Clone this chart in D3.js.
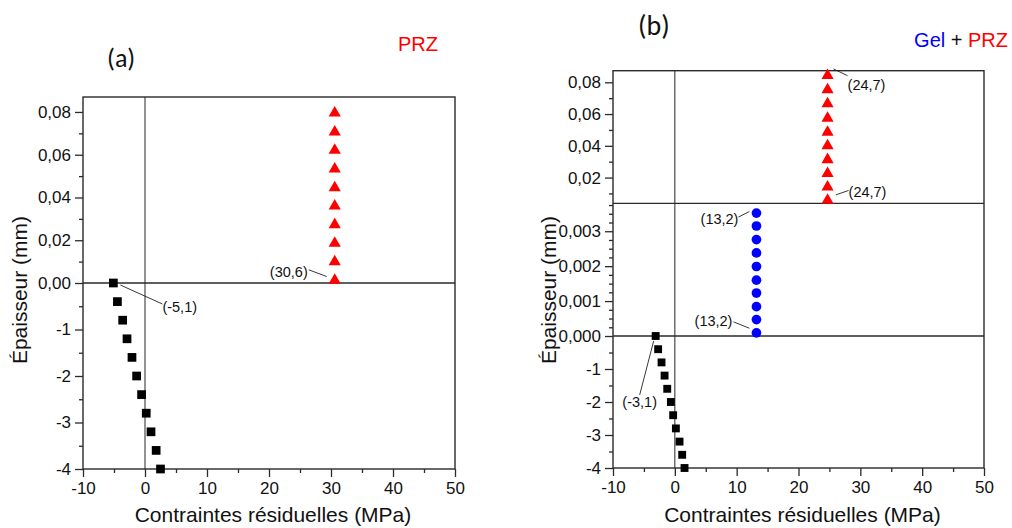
<!DOCTYPE html>
<html><head><meta charset="utf-8">
<script src="https://cdn.jsdelivr.net/npm/d3@7"></script>
<style>body{margin:0;background:#fff}svg{display:block}</style>
</head><body><svg id="c" width="1012" height="528"></svg>
<script>
// ---------- data ----------
const xTicks = [-10, 0, 10, 20, 30, 40, 50];
const xMinor = [-5, 5, 15, 25, 35, 45];
// panel (a)
const aSubX = [-5.1, -4.45, -3.6, -2.9, -2.1, -1.35, -0.55, 0.2, 0.97, 1.8, 2.5];
const aSubY = [0, -0.4, -0.8, -1.2, -1.6, -2.0, -2.4, -2.8, -3.2, -3.6, -4.0];
const aPrzX = [30.6, 30.6, 30.6, 30.6, 30.6, 30.6, 30.6, 30.6, 30.6, 30.6];
const aPrzY = [0.0013, 0.0099, 0.0186, 0.0273, 0.036, 0.0446, 0.0533, 0.0621, 0.0706, 0.0795];
const aTopTicks = [0, 0.02, 0.04, 0.06, 0.08];
const aTopMinor = [0.01, 0.03, 0.05, 0.07];
const lowTicks = [-1, -2, -3, -4];
const lowMinor = [-0.5, -1.5, -2.5, -3.5];
// panel (b)
const bSubX = [-3.1, -2.7, -2.15, -1.66, -1.23, -0.64, -0.27, 0.17, 0.76, 1.19, 1.57];
const bSubY = [0, -0.4, -0.8, -1.2, -1.6, -2.0, -2.4, -2.8, -3.2, -3.6, -4.0];
const bGelX = [13.2, 13.2, 13.2, 13.2, 13.2, 13.2, 13.2, 13.2, 13.2, 13.2];
const bGelY = [0.00009, 0.00047, 0.00084, 0.00123, 0.0016, 0.00199, 0.00238, 0.00276, 0.00315, 0.00352];
const bPrzX = [24.7, 24.7, 24.7, 24.7, 24.7, 24.7, 24.7, 24.7, 24.7, 24.7];
const bPrzY = [0.0057, 0.014, 0.0226, 0.0313, 0.0401, 0.0486, 0.0574, 0.0665, 0.0753, 0.0843];
const bTopTicks = [0.02, 0.04, 0.06, 0.08];
const bTopMinor = [0.01, 0.03, 0.05, 0.07];
const bMidTicks = [0, 0.001, 0.002, 0.003];
const bMidMinor = [0.00025, 0.0005, 0.00075, 0.00125, 0.0015, 0.00175, 0.00225, 0.0025, 0.00275, 0.00325, 0.0035, 0.00375];
// segment domains
const aTopDom = [0, 0.087], aLowDom = [-4, 0];
const bTopDom = [0.0038, 0.0873], bMidDom = [0, 0.0038], bLowDom = [-4, 0];
const xDom = [-10, 50];
// texts
const xTitle = "Contraintes résiduelles (MPa)";
const yTitle = "Épaisseur (mm)";

// ---------- drawing ----------
const svg = d3.select("#c");
svg.append("rect").attr("width", 1012).attr("height", 528).attr("fill", "#fff");
const loc = d3.formatLocale({decimal: ",", thousands: ".", grouping: [3], currency: ["", ""], minus: "-"});
const f2 = loc.format(".2f"), f3 = loc.format(".3f"), fd = loc.format("d");
const FONT = "Liberation Sans, Arial, sans-serif";
const RED = "#ff0000", BLUE = "#0000ff";

function panel(cfg) {
  const g = svg.append("g");
  const x = d3.scaleLinear().domain(xDom).range([cfg.left, cfg.right]);
  const segs = cfg.segs.map(s => Object.assign({}, s, {
    scale: d3.scaleLinear().domain(s.dom).range([s.y1, s.y0])
  }));
  const L = cfg.left, R = cfg.right, T = segs[0].y0, B = segs[segs.length - 1].y1;

  // zero vertical line
  g.append("line").attr("x1", x(0)).attr("x2", x(0)).attr("y1", T).attr("y2", B)
    .attr("stroke", "#3a3a3a").attr("stroke-width", 1.1);
  // segment separators
  segs.slice(0, -1).forEach(s => {
    g.append("line").attr("x1", L).attr("x2", R).attr("y1", s.y1).attr("y2", s.y1)
      .attr("stroke", "#2a2a2a").attr("stroke-width", 1.3);
  });
  // frame
  g.append("rect").attr("x", L).attr("y", T).attr("width", R - L).attr("height", B - T)
    .attr("fill", "none").attr("stroke", "#2a2a2a").attr("stroke-width", 1.4);

  // y axes per segment
  segs.forEach(s => {
    const ga = g.append("g").attr("transform", `translate(${L},0)`)
      .call(d3.axisLeft(s.scale).tickValues(s.ticks).tickSize(8).tickPadding(4).tickFormat(s.fmt));
    const gm = g.append("g").attr("transform", `translate(${L},0)`)
      .call(d3.axisLeft(s.scale).tickValues(s.minor).tickSize(4).tickFormat(""));
    [ga, gm].forEach(a => {
      a.select(".domain").remove();
      a.selectAll("line").attr("stroke", "#2a2a2a").attr("stroke-width", 1.3);
      a.selectAll("text").attr("font-family", FONT).attr("font-size", 17).attr("fill", "#111");
    });
  });
  // x axis
  const gx = g.append("g").attr("transform", `translate(0,${B})`)
    .call(d3.axisBottom(x).tickValues(xTicks).tickSize(8).tickPadding(5).tickFormat(fd));
  const gxm = g.append("g").attr("transform", `translate(0,${B})`)
    .call(d3.axisBottom(x).tickValues(xMinor).tickSize(4).tickFormat(""));
  [gx, gxm].forEach(a => {
    a.select(".domain").remove();
    a.selectAll("line").attr("stroke", "#2a2a2a").attr("stroke-width", 1.3);
    a.selectAll("text").attr("font-family", FONT).attr("font-size", 17).attr("fill", "#111");
  });

  // titles
  g.append("text").attr("x", (L + R) / 2 + 4).attr("y", 522).attr("text-anchor", "middle")
    .attr("font-family", FONT).attr("font-size", 21).attr("fill", "#111").text(xTitle);
  g.append("text").attr("transform", `translate(${cfg.ytx},290) rotate(-90)`).attr("text-anchor", "middle")
    .attr("font-family", FONT).attr("font-size", 21).attr("fill", "#111").text(yTitle);

  const segOf = i => segs[i].scale;
  // series
  cfg.series.forEach(se => {
    const ys = segOf(se.seg);
    const pts = se.xs.map((v, i) => [x(v), ys(se.ys[i])]);
    g.selectAll(null).data(pts).join("path")
      .attr("transform", d => `translate(${d[0]},${d[1]})`)
      .attr("d", d3.symbol().type(se.sym).size(se.size)())
      .attr("fill", se.color);
  });
  // annotations
  cfg.notes.forEach(n => {
    const px = x(n.x), py = segOf(n.seg)(n.y);
    g.append("line").attr("x1", px + n.l[0]).attr("y1", py + n.l[1])
      .attr("x2", px + n.l[2]).attr("y2", py + n.l[3]).attr("stroke", "#222").attr("stroke-width", 0.9);
    g.append("text").attr("x", px + n.t[0]).attr("y", py + n.t[1]).attr("dy", "0.35em")
      .attr("text-anchor", n.anchor).attr("font-family", FONT).attr("font-size", 14.5)
      .attr("fill", "#111").text(n.label);
  });
  return g;
}

panel({
  left: 83, right: 455, ytx: 27,
  segs: [
    {dom: aTopDom, y0: 97, y1: 283, ticks: aTopTicks, minor: aTopMinor, fmt: f2},
    {dom: aLowDom, y0: 283, y1: 469, ticks: lowTicks, minor: lowMinor, fmt: fd}
  ],
  series: [
    {xs: aSubX, ys: aSubY, seg: 1, sym: d3.symbolSquare, size: 76, color: "#000"},
    {xs: aPrzX, ys: aPrzY, seg: 0, sym: d3.symbolTriangle, size: 64, color: RED}
  ],
  notes: [
    {x: aSubX[0], y: aSubY[0], seg: 1, label: "(-5,1)", l: [7, 2, 49, 21], t: [49, 24], anchor: "start"},
    {x: aPrzX[0], y: aPrzY[0], seg: 0, label: "(30,6)", l: [-26, -10.4, -8, -3.7], t: [-27, -8.7], anchor: "end"}
  ]
});

panel({
  left: 613, right: 984, ytx: 556,
  segs: [
    {dom: bTopDom, y0: 70.7, y1: 203.3, ticks: bTopTicks, minor: bTopMinor, fmt: f2},
    {dom: bMidDom, y0: 203.3, y1: 336, ticks: bMidTicks, minor: bMidMinor, fmt: f3},
    {dom: bLowDom, y0: 336, y1: 468, ticks: lowTicks, minor: lowMinor, fmt: fd}
  ],
  series: [
    {xs: bSubX, ys: bSubY, seg: 2, sym: d3.symbolSquare, size: 62, color: "#000"},
    {xs: bGelX, ys: bGelY, seg: 1, sym: d3.symbolCircle, size: 74, color: BLUE},
    {xs: bPrzX, ys: bPrzY, seg: 0, sym: d3.symbolTriangle, size: 64, color: RED}
  ],
  notes: [
    {x: bPrzX[9], y: bPrzY[9], seg: 0, label: "(24,7)", l: [6, -6.5, 20, 0.2], t: [20, 9.5], anchor: "start"},
    {x: bPrzX[0], y: bPrzY[0], seg: 0, label: "(24,7)", l: [8.5, -5.5, 21, -9.8], t: [21, -8.8], anchor: "start"},
    {x: bGelX[9], y: bGelY[9], seg: 1, label: "(13,2)", l: [-18, 4, -7, -1.6], t: [-18, 5.4], anchor: "end"},
    {x: bGelX[0], y: bGelY[0], seg: 1, label: "(13,2)", l: [-23, -11, -7, -4.6], t: [-24, -12.2], anchor: "end"},
    {x: bSubX[0], y: bSubY[0], seg: 2, label: "(-3,1)", l: [-2, 5, -16, 59], t: [-16, 66], anchor: "middle"}
  ]
});

// panel labels and legends
svg.append("text").attr("x", 107).attr("y", 67).attr("font-family", "Carlito, Lato, sans-serif")
  .attr("font-size", 26).attr("fill", "#111").text("(a)");
svg.append("text").attr("x", 638).attr("y", 35).attr("font-family", "Carlito, Lato, sans-serif")
  .attr("font-size", 28).attr("fill", "#111").text("(b)");
svg.append("text").attr("x", 398).attr("y", 51).attr("font-family", FONT)
  .attr("font-size", 20).attr("fill", RED).text("PRZ");
const lg = svg.append("text").attr("x", 1008).attr("y", 47).attr("text-anchor", "end")
  .attr("font-family", FONT).attr("font-size", 20);
lg.append("tspan").attr("fill", BLUE).text("Gel");
lg.append("tspan").attr("fill", "#111").text(" + ");
lg.append("tspan").attr("fill", RED).text("PRZ");
</script></body></html>
